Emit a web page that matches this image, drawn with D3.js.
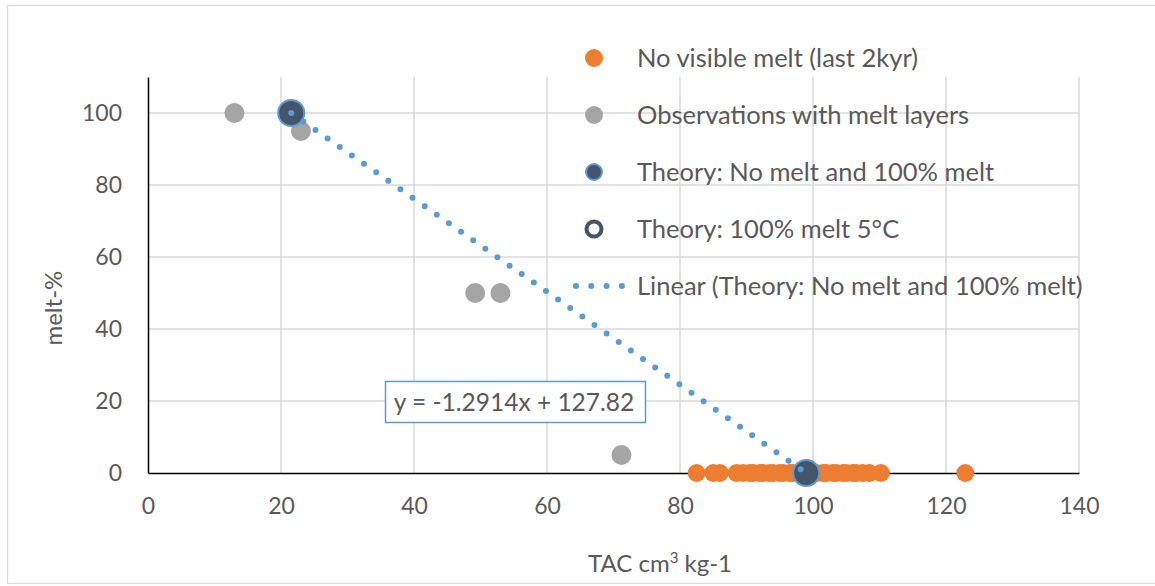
<!DOCTYPE html>
<html>
<head>
<meta charset="utf-8">
<script src="https://cdn.jsdelivr.net/npm/d3@7"></script>
<style>
  body { margin: 0; background: #fff; }
  svg text { font-family: Lato, "Open Sans", sans-serif; fill: #595959; }
</style>
</head>
<body>
<svg width="1155" height="586"></svg>
<script>
// --- data ---
var noMeltTAC = [82.5, 85, 86, 88.5, 89.5, 90.5, 91, 92, 92.5, 93.5, 94, 95, 95.5, 96.5, 97,
                 98, 100, 100.5, 101.5, 102, 103, 103.5, 104.5, 105, 106, 106.5, 107.5, 108.5, 110.2, 122.9];
var obsTAC  = [13, 23, 49.2, 53, 71.2];
var obsMelt = [100, 95, 50, 50, 5];
var theoryTAC  = [21.54, 98.98];
var theoryMelt = [100, 0];
var slope = -1.2914, intercept = 127.82;
var xTicks = [0, 20, 40, 60, 80, 100, 120, 140];
var yTicks = [0, 20, 40, 60, 80, 100];
var legendLabels = [
  "No visible melt (last 2kyr)",
  "Observations with melt layers",
  "Theory: No melt and 100% melt",
  "Theory: 100% melt 5°C",
  "Linear (Theory: No melt and 100% melt)"
];

var svg = d3.select("svg");
var orange = "#ed7d31", grey = "#a5a5a5", navy = "#44546a", blue = "#5b9bd5";

// chart border
svg.append("rect")
  .attr("x", 7.5).attr("y", 5.5)
  .attr("width", 1160).attr("height", 578)
  .attr("fill", "none").attr("stroke", "#d9d9d9").attr("stroke-width", 1.3);

var x = d3.scaleLinear().domain([0, 140]).range([148, 1079]);
var y = d3.scaleLinear().domain([0, 110]).range([473, 77]);

// gridlines
svg.append("g").selectAll("line")
  .data(xTicks.slice(1))
  .enter().append("line")
  .attr("x1", d => x(d)).attr("x2", d => x(d))
  .attr("y1", y(110)).attr("y2", y(0))
  .attr("stroke", "#d9d9d9").attr("stroke-width", 1.5);

svg.append("g").selectAll("line")
  .data(yTicks.slice(1))
  .enter().append("line")
  .attr("x1", x(0)).attr("x2", x(140))
  .attr("y1", d => y(d)).attr("y2", d => y(d))
  .attr("stroke", "#d9d9d9").attr("stroke-width", 1.5);

// axes
var xAxis = svg.append("g")
  .attr("transform", "translate(0," + y(0) + ")")
  .call(d3.axisBottom(x).tickValues(xTicks).tickSize(0).tickPadding(25));
xAxis.select(".domain").attr("stroke", "#000").attr("stroke-width", 1.5);
xAxis.selectAll("text").style("font-size", "23px").attr("fill", "#595959");

var yAxis = svg.append("g")
  .attr("transform", "translate(" + x(0) + ",0)")
  .call(d3.axisLeft(y).tickValues(yTicks).tickSize(0).tickPadding(26));
yAxis.select(".domain").attr("stroke", "#000").attr("stroke-width", 1.5);
yAxis.selectAll("text").style("font-size", "23px").attr("fill", "#595959");

// axis titles
svg.append("text")
  .attr("x", 660).attr("y", 572)
  .attr("text-anchor", "middle")
  .style("font-size", "24px")
  .html('TAC cm<tspan baseline-shift="super" font-size="15px">3</tspan> kg-1');

svg.append("text")
  .attr("transform", "translate(62," + y(45.8) + ") rotate(-90)")
  .attr("text-anchor", "middle")
  .style("font-size", "24px")
  .text("melt-%");

// series
svg.append("g").selectAll("circle")
  .data(noMeltTAC)
  .enter().append("circle")
  .attr("cx", d => x(d)).attr("cy", y(0))
  .attr("r", 9).attr("fill", orange);

svg.append("g").selectAll("circle")
  .data(obsTAC)
  .enter().append("circle")
  .attr("cx", d => x(d)).attr("cy", (d, i) => y(obsMelt[i]))
  .attr("r", 10).attr("fill", grey);

svg.append("g").selectAll("circle")
  .data(theoryTAC)
  .enter().append("circle")
  .attr("cx", d => x(d)).attr("cy", (d, i) => y(theoryMelt[i]))
  .attr("r", 13).attr("fill", navy)
  .attr("stroke", blue).attr("stroke-width", 2);

// linear trendline
var x0 = theoryTAC[0], x1 = theoryTAC[1];
svg.append("line")
  .attr("x1", x(x0)).attr("y1", y(slope * x0 + intercept))
  .attr("x2", x(x1)).attr("y2", y(slope * x1 + intercept))
  .attr("stroke", blue).attr("stroke-width", 6)
  .attr("stroke-linecap", "round")
  .attr("stroke-dasharray", "0 14.8");

// equation label
var eq = svg.append("g");
eq.append("rect")
  .attr("x", 385.5).attr("y", 381.5)
  .attr("width", 260).attr("height", 41)
  .attr("fill", "#fff").attr("stroke", blue).attr("stroke-width", 1.5);
eq.append("text")
  .attr("x", 514).attr("y", 411)
  .attr("text-anchor", "middle")
  .style("font-size", "24.5px")
  .text("y = " + slope + "x + " + intercept);

// legend
var leg = svg.append("g").selectAll("g")
  .data(legendLabels)
  .enter().append("g")
  .attr("transform", (d, i) => "translate(594," + (58 + i * 57) + ")");

leg.append("text")
  .attr("x", 43).attr("y", 8.5)
  .style("font-size", "25.5px")
  .text(d => d);

leg.each(function(d, i) {
  var g = d3.select(this);
  if (i === 0) g.append("circle").attr("r", 9).attr("fill", orange);
  if (i === 1) g.append("circle").attr("r", 9).attr("fill", grey);
  if (i === 2) g.append("circle").attr("r", 8).attr("fill", navy).attr("stroke", blue).attr("stroke-width", 2);
  if (i === 3) g.append("circle").attr("r", 7.5).attr("fill", "#fff").attr("stroke", navy).attr("stroke-width", 4);
  if (i === 4) g.append("line").attr("x1", -18).attr("x2", 28)
    .attr("stroke", blue).attr("stroke-width", 6).attr("stroke-linecap", "round")
    .attr("stroke-dasharray", "0 15.3");
});
</script>
</body>
</html>
